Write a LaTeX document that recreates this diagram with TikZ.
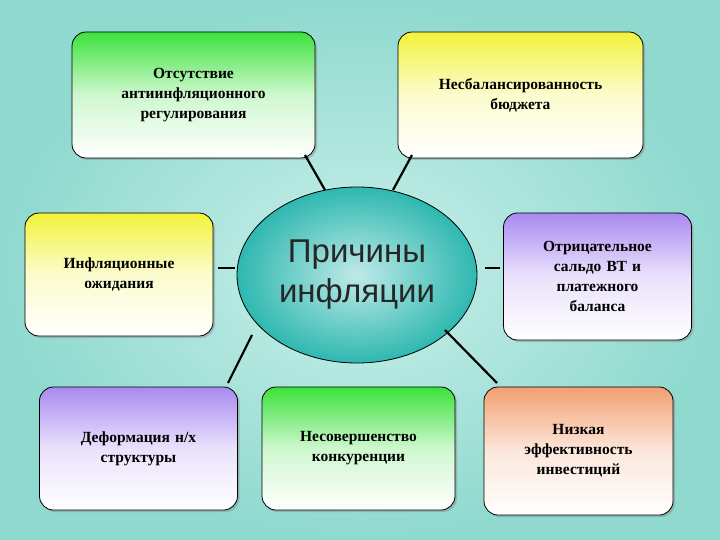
\documentclass[tikz,border=0pt]{standalone}
\usepackage{fontspec}
\setmainfont{Liberation Serif}
\newfontfamily\sansf{Liberation Sans}
\usetikzlibrary{shadows,shapes.geometric}
\definecolor{bgA}{HTML}{8FD9CF}
\definecolor{bgB}{HTML}{C9F0EA}
\definecolor{cgreen}{HTML}{3CE23C}
\definecolor{cyellow}{HTML}{F2F23A}
\definecolor{cpurple}{HTML}{A98AF0}
\definecolor{corange}{HTML}{F2A070}
\definecolor{cteal}{HTML}{2EB8B0}
\tikzset{
  box/.style={draw=black, line width=0.8pt, rounded corners=14pt, bottom color=white,
    drop shadow={shadow xshift=2pt, shadow yshift=-2pt, opacity=0.4},
    align=center, font=\bfseries\fontsize{15.5}{20}\selectfont, inner sep=4pt},
  link/.style={line width=2.2pt, black}
}
\begin{document}
\begin{tikzpicture}[x=1pt,y=-1pt]
\shade[inner color=bgB, outer color=bgA] (0,0) rectangle (720,540);
\useasboundingbox (0,0) rectangle (720,540);
\node[box, top color=cgreen, middle color=white!75!cgreen, minimum width=243pt, minimum height=126pt, text width=230pt] (b1) at (193.5,95) {Отсутствие\\антиинфляционного\\регулирования\\[10pt]};
\node[box, top color=cyellow, middle color=white!75!cyellow, minimum width=245pt, minimum height=126pt, text width=230pt] (b2) at (520.5,95) {Несбалансированность\\бюджета};
\node[box, top color=cyellow, middle color=white!75!cyellow, minimum width=188pt, minimum height=123pt, text width=180pt] (b3) at (119,274.5) {Инфляционные\\ожидания};
\node[box, top color=cpurple, middle color=white!75!cpurple, minimum width=185pt, minimum height=127pt, text width=180pt] (b4) at (597.5,276.5) {Отрицательное\\сальдо ВТ и\\платежного\\баланса};
\node[box, top color=cpurple, middle color=white!75!cpurple, minimum width=197pt, minimum height=123pt, text width=190pt] (b5) at (138.5,448.5) {Деформация н/х\\структуры};
\node[box, top color=cgreen, middle color=white!75!cgreen, minimum width=193pt, minimum height=123pt, text width=185pt] (b6) at (358.5,448.5) {Несовершенство\\конкуренции};
\node[box, top color=corange, middle color=white!75!corange, minimum width=189pt, minimum height=128pt, text width=180pt] (b7) at (578.5,451) {Низкая\\эффективность\\инвестиций};
\node[ellipse, draw=black, line width=0.8pt, inner color=white!70!cteal, outer color=cteal,
  minimum width=240pt, minimum height=176pt, align=center, text=black!85,
  font=\sansf\fontsize{33}{40}\selectfont] (c) at (357,275) {Причины\\инфляции};
\coordinate (p1a) at (305,155); \coordinate (p1b) at (325,190);
\coordinate (p2a) at (412,155); \coordinate (p2b) at (393,190);
\coordinate (p3a) at (218,268); \coordinate (p3b) at (235,268);
\coordinate (p4a) at (485,268); \coordinate (p4b) at (500,268);
\coordinate (p5a) at (252,335); \coordinate (p5b) at (228,383);
\coordinate (p7a) at (445,330); \coordinate (p7b) at (497,383);
\foreach \n in {1,2,3,4,5,7} \draw[link] (p\n a) -- (p\n b);
\end{tikzpicture}
\end{document}
